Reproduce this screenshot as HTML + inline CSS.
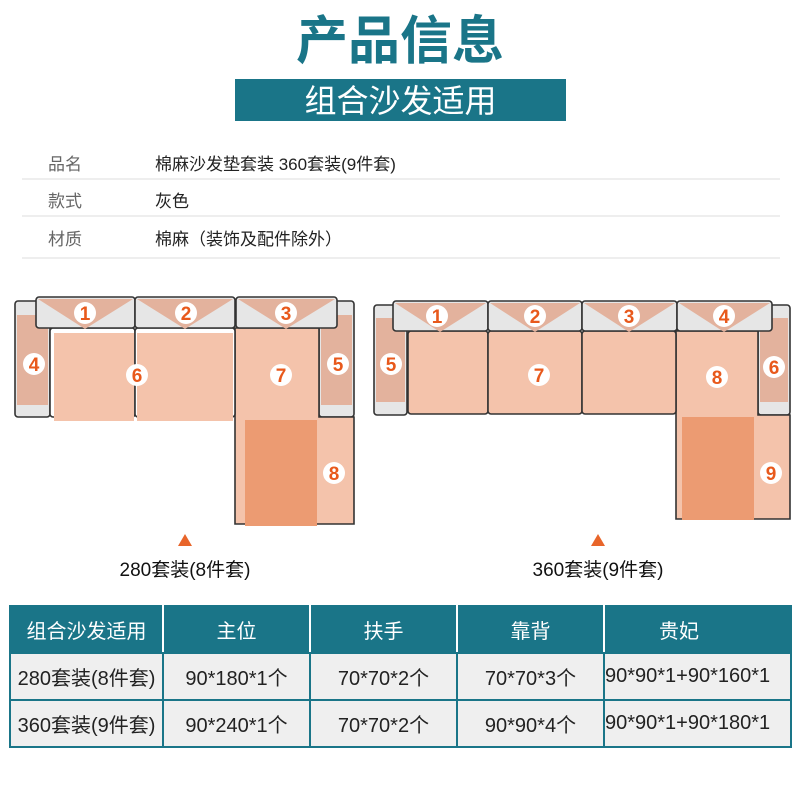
<!DOCTYPE html>
<html><head><meta charset="utf-8"><style>
body{margin:0;width:800px;height:800px;background:#fff;position:relative;overflow:hidden;font-family:"Liberation Sans","Noto Sans CJK SC",sans-serif}
.a{position:absolute;white-space:nowrap}
.t{left:0;width:800px;text-align:center;top:12px;font-size:52px;font-weight:bold;color:#1a7588;line-height:60px}
.ban{left:235px;top:79px;width:331px;height:42px;background:#1a7588;color:#fff;font-size:32px;text-align:center;line-height:44px}
.lab{left:48px;font-size:17px;color:#666}
.val{left:155px;font-size:17px;color:#222}
.ln{left:22px;width:758px;height:2px;background:#eee}
table{position:absolute;left:9px;top:605px;border-collapse:collapse;table-layout:fixed}
td{border:2px solid #1a7588;height:45px;font-size:20px;white-space:nowrap;overflow:hidden;background:#efefef;color:#222;text-align:center;padding:0}
tr.h td{background:#1a7588;color:#fff;border-color:#1a7588;border-left-color:#fff;border-right-color:#fff;height:45px}
tr.h td:first-child{border-left-color:#1a7588}
tr.h td:last-child{border-right-color:#1a7588}
</style></head><body>
<div class="a t">产品信息</div>
<div class="a ban">组合沙发适用</div>
<div class="a lab" style="top:150px">品名</div><div class="a val" style="top:150px">棉麻沙发垫套装 360套装(9件套)</div>
<div class="a ln" style="top:178px"></div>
<div class="a lab" style="top:187px">款式</div><div class="a val" style="top:187px">灰色</div>
<div class="a ln" style="top:215px"></div>
<div class="a lab" style="top:225px">材质</div><div class="a val" style="top:225px">棉麻（装饰及配件除外）</div>
<div class="a ln" style="top:257px"></div>

<svg class="a" style="left:0;top:0" width="800" height="600">
<g stroke="#333" stroke-width="1.6" fill="none">
<rect x="15" y="301" width="35" height="116" rx="3" fill="#e6e6e6"/>
<rect x="17" y="315" width="31" height="90" fill="#e3b29d" stroke="none"/>
<rect x="319" y="301" width="35" height="116" rx="3" fill="#e6e6e6"/>
<rect x="321" y="315" width="31" height="90" fill="#e3b29d" stroke="none"/>
<path d="M235 328 H319 V417 H354 V524 H235 Z" fill="#f4c3ab"/>
<rect x="245" y="420" width="72" height="106" fill="#ec9b72" stroke="none"/>
<rect x="50" y="328" width="85" height="89" rx="3" fill="#fff"/>
<rect x="135" y="328" width="100" height="89" rx="3" fill="#fff"/>
<rect x="54" y="333" width="80" height="88" fill="#f4c3ab" stroke="none"/>
<rect x="137" y="333" width="96" height="88" fill="#f4c3ab" stroke="none"/>
<rect x="36" y="297" width="99" height="31" rx="3" fill="#e6e6e6"/>
<rect x="135" y="297" width="100" height="31" rx="3" fill="#e6e6e6"/>
<rect x="236" y="297" width="101" height="31" rx="3" fill="#e6e6e6"/>
<path d="M38 299 H133 L85 329 Z M137 299 H233 L185 329 Z M238 299 H335 L286 329 Z" fill="#e3b29d" stroke="none"/>
<rect x="374" y="305" width="33" height="110" rx="3" fill="#e6e6e6"/>
<rect x="376" y="318" width="29" height="84" fill="#e3b29d" stroke="none"/>
<rect x="758" y="305" width="32" height="110" rx="3" fill="#e6e6e6"/>
<rect x="760" y="318" width="28" height="84" fill="#e3b29d" stroke="none"/>
<path d="M676 331 H758 V415 H790 V519 H676 Z" fill="#f4c3ab"/>
<rect x="682" y="417" width="72" height="103" fill="#ec9b72" stroke="none"/>
<rect x="408" y="331" width="80" height="83" rx="3" fill="#f4c3ab"/>
<rect x="488" y="331" width="94" height="83" rx="3" fill="#f4c3ab"/>
<rect x="582" y="331" width="94" height="83" rx="3" fill="#f4c3ab"/>
<rect x="393" y="301" width="95" height="30" rx="3" fill="#e6e6e6"/>
<rect x="488" y="301" width="94" height="30" rx="3" fill="#e6e6e6"/>
<rect x="582" y="301" width="95" height="30" rx="3" fill="#e6e6e6"/>
<rect x="677" y="301" width="95" height="30" rx="3" fill="#e6e6e6"/>
<path d="M395 303 H486 L440 332 Z M490 303 H580 L535 332 Z M584 303 H675 L629 332 Z M679 303 H770 L724 332 Z" fill="#e3b29d" stroke="none"/>
</g>
<g fill="#fff">
<circle cx="85" cy="313" r="11"/><circle cx="186" cy="313" r="11"/><circle cx="286" cy="313" r="11"/>
<circle cx="34" cy="364" r="11"/><circle cx="137" cy="375" r="11"/><circle cx="281" cy="375" r="11"/><circle cx="338" cy="364" r="11"/><circle cx="334" cy="473" r="11"/>
<circle cx="437" cy="316" r="11"/><circle cx="535" cy="316" r="11"/><circle cx="629" cy="316" r="11"/><circle cx="724" cy="316" r="11"/>
<circle cx="391" cy="364" r="11"/><circle cx="539" cy="375" r="11"/><circle cx="717" cy="377" r="11"/><circle cx="774" cy="367" r="11"/><circle cx="771" cy="473" r="11"/>
</g>
<g fill="#e8591c" font-family="Liberation Sans,sans-serif" font-weight="bold" font-size="19" text-anchor="middle">
<text x="85" y="320">1</text><text x="186" y="320">2</text><text x="286" y="320">3</text>
<text x="34" y="371">4</text><text x="137" y="382">6</text><text x="281" y="382">7</text><text x="338" y="371">5</text><text x="334" y="480">8</text>
<text x="437" y="323">1</text><text x="535" y="323">2</text><text x="629" y="323">3</text><text x="724" y="323">4</text>
<text x="391" y="371">5</text><text x="539" y="382">7</text><text x="717" y="384">8</text><text x="774" y="374">6</text><text x="771" y="480">9</text>
</g>
<path d="M178 546 L185 534 L192 546 Z M591 546 L598 534 L605 546 Z" fill="#e8652a"/>
<text x="185" y="576" font-size="19" text-anchor="middle" fill="#111" font-family="Liberation Sans,Noto Sans CJK SC,sans-serif">280套装(8件套)</text>
<text x="598" y="576" font-size="19" text-anchor="middle" fill="#111" font-family="Liberation Sans,Noto Sans CJK SC,sans-serif">360套装(9件套)</text>
</svg>

<table>
<colgroup><col style="width:153px"><col style="width:147px"><col style="width:147px"><col style="width:147px"><col style="width:187px"></colgroup>
<tr class="h"><td>组合沙发适用</td><td>主位</td><td>扶手</td><td>靠背</td><td style="text-align:left;padding-left:54px">贵妃</td></tr>
<tr><td>280套装(8件套)</td><td>90*180*1个</td><td>70*70*2个</td><td>70*70*3个</td><td style="text-align:left">90*90*1+90*160*1</td></tr>
<tr><td>360套装(9件套)</td><td>90*240*1个</td><td>70*70*2个</td><td>90*90*4个</td><td style="text-align:left">90*90*1+90*180*1</td></tr>
</table>
</body></html>
